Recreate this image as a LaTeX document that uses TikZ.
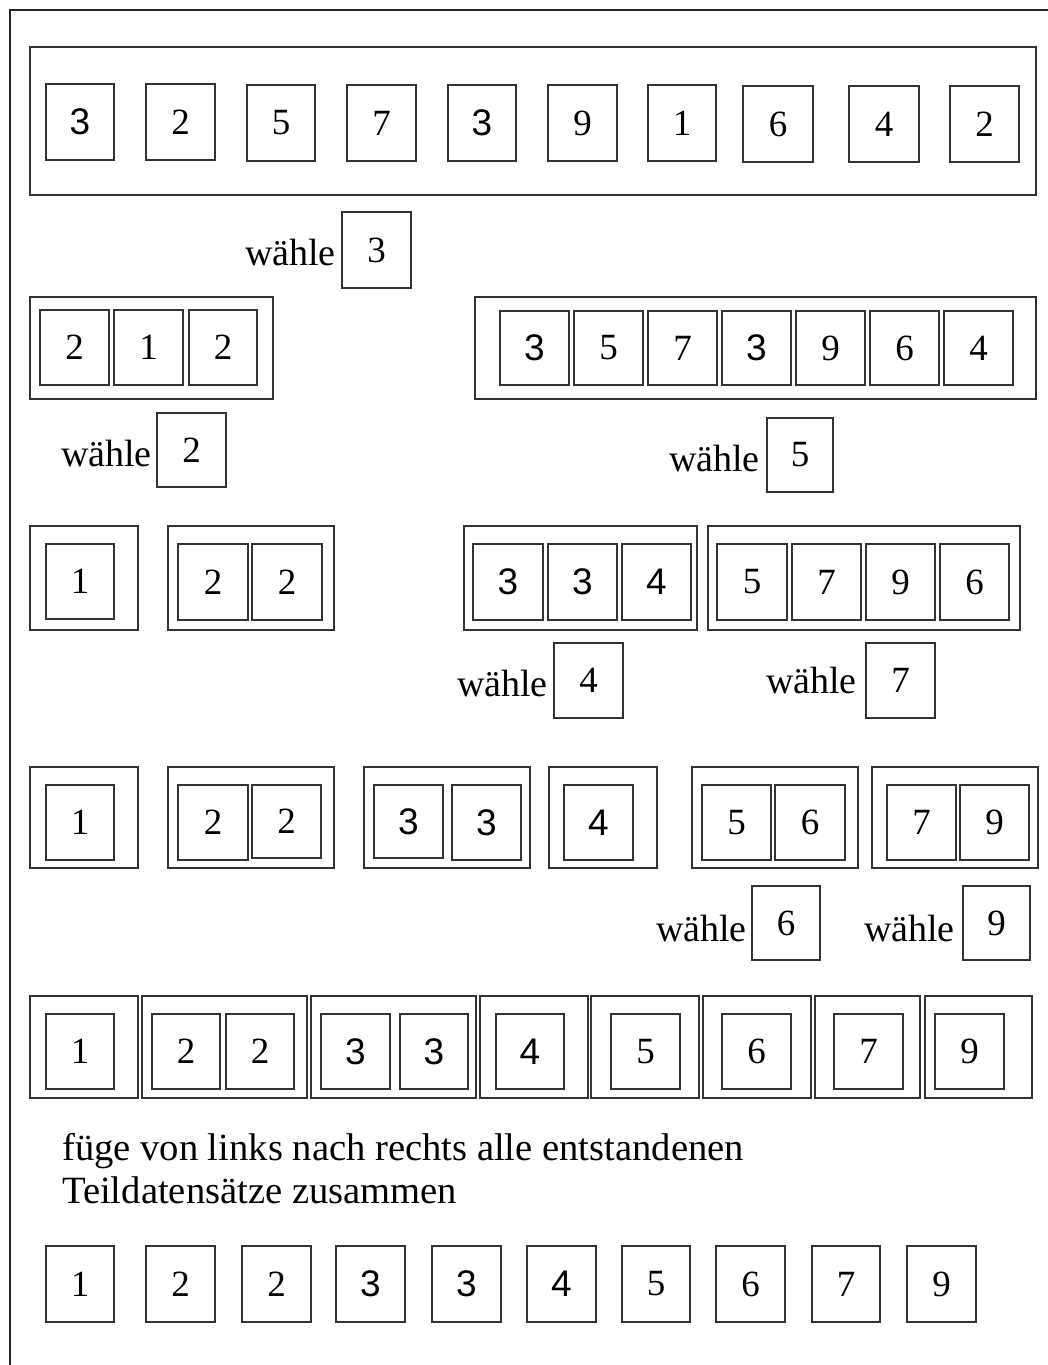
\documentclass[tikz,border=0pt]{standalone}
\usepackage{fontspec}
\setmainfont{Liberation Serif}
\newfontfamily\arialf{Liberation Sans}
\tikzset{
  cell/.style={draw=black!80, line width=1.3pt, inner sep=0pt, outer sep=0pt, font=\fontsize{37}{40}\selectfont},
  scell/.style={cell, font=\fontsize{37}{40}\selectfont\arialf},
  grp/.style={draw=black!80, line width=1.3pt, inner sep=0pt, outer sep=0pt},
  lbl/.style={anchor=base east, inner sep=0pt, font=\fontsize{38}{42}\selectfont},
  txt/.style={anchor=base west, inner sep=0pt, font=\fontsize{38.6}{42}\selectfont},
}
\newcommand\bx[7][cell]{%
  \pgfmathsetmacro\bxw{#5-#3}\pgfmathsetmacro\bxh{#6-#4}%
  \node[#1,minimum width=\bxw pt,minimum height=\bxh pt] (#2) at ({(#3+#5)/2},{(#4+#6)/2}) {#7};}
\begin{document}
\begin{tikzpicture}[x=1pt,y=-1pt]
\useasboundingbox (0,0) rectangle (1048,1365);
\draw[black!85, line width=1.4pt] (10,1365) -- (10,10) -- (1048,10);
% row 1
\bx[grp]{g1}{30}{47}{1036}{195}{}
\bx[scell]{a1}{46}{84}{114}{160}{3}
\bx{a2}{146}{84}{215}{160}{2}
\bx{a3}{247}{85}{315}{161}{5}
\bx{a4}{347}{85}{416}{161}{7}
\bx[scell]{a5}{448}{85}{516}{161}{3}
\bx{a6}{548}{85}{617}{161}{9}
\bx{a7}{648}{85}{716}{161}{1}
\bx{a8}{743}{86}{813}{162}{6}
\bx{a9}{849}{86}{919}{162}{4}
\bx{a10}{950}{86}{1019}{162}{2}
% waehle 3
\bx{p1}{342}{212}{411}{288}{3}
\node[lbl] (w1) at (336,265) {wähle};
% row 2
\bx[grp]{g2}{30}{297}{273}{399}{}
\bx{b1}{40}{310}{109}{385}{2}
\bx{b2}{114}{310}{183}{385}{1}
\bx{b3}{189}{310}{257}{385}{2}
\bx[grp]{g3}{475}{297}{1036}{399}{}
\bx[scell]{c1}{500}{311}{569}{385}{3}
\bx{c2}{574}{311}{643}{385}{5}
\bx{c3}{648}{311}{717}{385}{7}
\bx[scell]{c4}{722}{311}{791}{385}{3}
\bx{c5}{796}{311}{865}{385}{9}
\bx{c6}{870}{311}{939}{385}{6}
\bx{c7}{944}{311}{1013}{385}{4}
% waehle 2 / 5
\bx{p2}{157}{413}{226}{487}{2}
\node[lbl] (w2) at (152,466) {wähle};
\bx{p3}{767}{418}{833}{492}{5}
\node[lbl] (w3) at (760,471) {wähle};
% row 3
\bx[grp]{g4}{30}{526}{138}{630}{}
\bx{d1}{46}{544}{114}{619}{1}
\bx[grp]{g5}{168}{526}{334}{630}{}
\bx{d2}{178}{544}{248}{620}{2}
\bx{d3}{252}{544}{322}{620}{2}
\bx[grp]{g6}{464}{526}{697}{630}{}
\bx[scell]{d4}{473}{544}{543}{620}{3}
\bx[scell]{d5}{548}{544}{617}{620}{3}
\bx[scell]{d6}{622}{544}{691}{620}{4}
\bx[grp]{g7}{708}{526}{1020}{630}{}
\bx{d7}{717}{544}{787}{620}{5}
\bx{d8}{792}{544}{861}{620}{7}
\bx{d9}{866}{544}{935}{620}{9}
\bx{d10}{940}{544}{1009}{620}{6}
% waehle 4 / 7
\bx{p4}{554}{643}{623}{718}{4}
\node[lbl] (w4) at (548,696) {wähle};
\bx{p5}{866}{643}{935}{718}{7}
\node[lbl] (w5) at (857,693) {wähle};
% row 4
\bx[grp]{g8}{30}{767}{138}{868}{}
\bx{e1}{46}{785}{114}{860}{1}
\bx[grp]{g9}{168}{767}{334}{868}{}
\bx{e2}{178}{785}{248}{860}{2}
\bx{e3}{252}{785}{321}{858}{2}
\bx[grp]{g10}{364}{767}{530}{868}{}
\bx[scell]{e4}{374}{785}{443}{858}{3}
\bx[scell]{e5}{452}{785}{521}{860}{3}
\bx[grp]{g11}{549}{767}{657}{868}{}
\bx[scell]{e6}{564}{785}{633}{860}{4}
\bx[grp]{g12}{692}{767}{858}{868}{}
\bx{e7}{702}{785}{771}{860}{5}
\bx{e8}{775}{785}{845}{860}{6}
\bx[grp]{g13}{872}{767}{1038}{868}{}
\bx{e9}{887}{785}{956}{860}{7}
\bx{e10}{960}{785}{1029}{860}{9}
% waehle 6 / 9
\bx{p6}{752}{886}{820}{960}{6}
\node[lbl] (w6) at (747,941) {wähle};
\bx{p7}{963}{886}{1030}{960}{9}
\node[lbl] (w7) at (955,941) {wähle};
% row 5
\bx[grp]{h1}{30}{996}{138}{1098}{}
\bx{f1}{46}{1014}{114}{1089}{1}
\bx[grp]{h2}{142}{996}{307}{1098}{}
\bx{f2}{152}{1014}{220}{1089}{2}
\bx{f3}{226}{1014}{294}{1089}{2}
\bx[grp]{h3}{311}{996}{476}{1098}{}
\bx[scell]{f4}{321}{1014}{390}{1089}{3}
\bx[scell]{f5}{400}{1014}{468}{1089}{3}
\bx[grp]{h4}{480}{996}{588}{1098}{}
\bx[scell]{f6}{496}{1014}{564}{1089}{4}
\bx[grp]{h5}{591}{996}{699}{1098}{}
\bx{f7}{611}{1014}{680}{1089}{5}
\bx[grp]{h6}{703}{996}{811}{1098}{}
\bx{f8}{722}{1014}{791}{1089}{6}
\bx[grp]{h7}{815}{996}{920}{1098}{}
\bx{f9}{834}{1014}{903}{1089}{7}
\bx[grp]{h8}{925}{996}{1032}{1098}{}
\bx{f10}{935}{1014}{1004}{1089}{9}
% text
\node[txt] (t1) at (62,1160) {füge von links nach rechts alle entstandenen};
\node[txt] (t2) at (62,1203) {Teildatensätze zusammen};
% final row
\bx{k1}{46}{1246}{114}{1322}{1}
\bx{k2}{146}{1246}{215}{1322}{2}
\bx{k3}{242}{1246}{311}{1322}{2}
\bx[scell]{k4}{336}{1246}{405}{1322}{3}
\bx[scell]{k5}{432}{1246}{501}{1322}{3}
\bx[scell]{k6}{527}{1246}{596}{1322}{4}
\bx{k7}{622}{1246}{690}{1322}{5}
\bx{k8}{716}{1246}{785}{1322}{6}
\bx{k9}{812}{1246}{880}{1322}{7}
\bx{k10}{907}{1246}{976}{1322}{9}
\end{tikzpicture}
\end{document}
